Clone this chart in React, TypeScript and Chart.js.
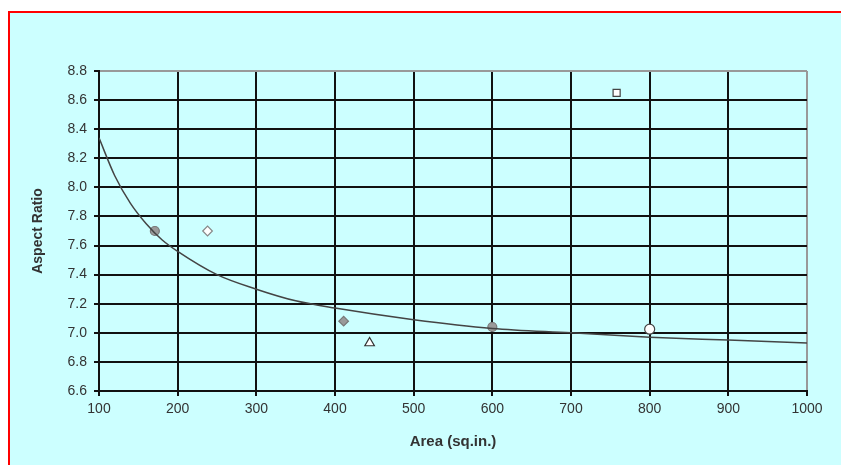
import React, { useEffect, useRef } from "react";
import { Chart, registerables } from "chart.js";

Chart.register(...registerables);

const curveX = [100, 120, 140, 160, 180, 200, 250, 300, 350, 400, 500, 600, 700, 800, 900, 1000];
const curveY = [8.34, 8.08, 7.89, 7.75, 7.64, 7.56, 7.4, 7.3, 7.22, 7.17, 7.09, 7.03, 7.0, 6.97, 6.95, 6.93];

const seriesA = [{ x: 171, y: 7.7 }];
const seriesB = [{ x: 238, y: 7.7 }];
const seriesC = [{ x: 411, y: 7.08 }];
const seriesD = [{ x: 444, y: 6.93 }];
const seriesE = [{ x: 600, y: 7.04 }];
const seriesF = [{ x: 758, y: 8.65 }];
const seriesG = [{ x: 800, y: 7.025 }];

const xTicks = [100, 200, 300, 400, 500, 600, 700, 800, 900, 1000];
const yTicks = [6.6, 6.8, 7.0, 7.2, 7.4, 7.6, 7.8, 8.0, 8.2, 8.4, 8.6, 8.8];

const FONT = "'Liberation Sans', Arial, sans-serif";

export default function App() {
  const ref = useRef<HTMLCanvasElement | null>(null);

  useEffect(() => {
    if (!ref.current) return;
    const pt = (
      label: string,
      data: { x: number; y: number }[],
      style: string,
      radius: number,
      bg: string,
      border: string
    ) => ({
      type: "scatter" as const,
      label,
      data,
      pointStyle: style,
      pointRadius: radius,
      pointBackgroundColor: bg,
      pointBorderColor: border,
      pointBorderWidth: 1.2,
      showLine: false,
    });

    const chart = new Chart(ref.current, {
      type: "scatter",
      data: {
        datasets: [
          {
            type: "line",
            label: "trend",
            data: curveX.map((x, i) => ({ x, y: curveY[i] })),
            borderColor: "#444",
            borderWidth: 1.5,
            pointRadius: 0,
            tension: 0.4,
            cubicInterpolationMode: "monotone",
            fill: false,
          } as any,
          pt("a", seriesA, "circle", 4.5, "#9a9a9a", "#777"),
          pt("b", seriesB, "rectRot", 4.8, "#ffffff", "#888"),
          pt("c", seriesC, "rectRot", 4.8, "#9a9a9a", "#777"),
          pt("d", seriesD, "triangle", 5.5, "#ffffff", "#333"),
          pt("e", seriesE, "circle", 4.5, "#9a9a9a", "#777"),
          pt("f", seriesF, "rect", 5, "#ffffff", "#444"),
          pt("g", seriesG, "circle", 5, "#ffffff", "#444"),
        ],
      },
      options: {
        responsive: false,
        animation: false,
        layout: { padding: { left: 0, top: 58, right: 34, bottom: 0 } },
        plugins: {
          legend: { display: false },
          tooltip: { enabled: false },
        },
        scales: {
          x: {
            type: "linear",
            min: 100,
            max: 1000,
            afterFit: (s: any) => {
              s.height = 74;
            },
            afterBuildTicks: (s: any) => {
              s.ticks = xTicks.map((v) => ({ value: v }));
            },
            ticks: {
              color: "#333",
              font: { family: FONT, size: 14 },
              padding: 5,
              maxRotation: 0,
              autoSkip: false,
              callback: (v: any) => String(v),
            },
            grid: {
              color: (ctx: any) => (ctx.index === xTicks.length - 1 ? "#999" : "#111"),
              lineWidth: 2,
              tickLength: 5,
              tickColor: "#111",
            },
            border: { display: true, color: "#111", width: 2 },
            title: {
              display: true,
              text: "Area (sq.in.)",
              color: "#333",
              font: { family: FONT, size: 15, weight: "bold" },
              padding: { top: 0, bottom: 14 },
            },
          },
          y: {
            type: "linear",
            min: 6.6,
            max: 8.8,
            afterFit: (s: any) => {
              s.width = 89;
            },
            afterBuildTicks: (s: any) => {
              s.ticks = yTicks.map((v) => ({ value: v }));
            },
            ticks: {
              color: "#333",
              font: { family: FONT, size: 14 },
              padding: 7,
              autoSkip: false,
              callback: (v: any) => Number(v).toFixed(1),
            },
            grid: {
              color: (ctx: any) => (ctx.index === yTicks.length - 1 ? "#999" : "#111"),
              lineWidth: 2,
              tickLength: 5,
              tickColor: "#111",
            },
            border: { display: true, color: "#111", width: 2 },
            title: {
              display: true,
              text: "Aspect Ratio",
              color: "#333",
              font: { family: FONT, size: 14, weight: "bold" },
              padding: { top: 20, bottom: 0 },
            },
          },
        },
      },
    } as any);
    return () => chart.destroy();
  }, []);

  return (
    <div
      style={{
        position: "absolute",
        left: 8,
        top: 11,
        width: 833,
        height: 454,
        boxSizing: "border-box",
        borderLeft: "2px solid #ff0000",
        borderTop: "2px solid #ff0000",
        background: "#ccffff",
        overflow: "hidden",
      }}
    >
      <canvas ref={ref} width={831} height={452} style={{ display: "block" }} />
    </div>
  );
}
